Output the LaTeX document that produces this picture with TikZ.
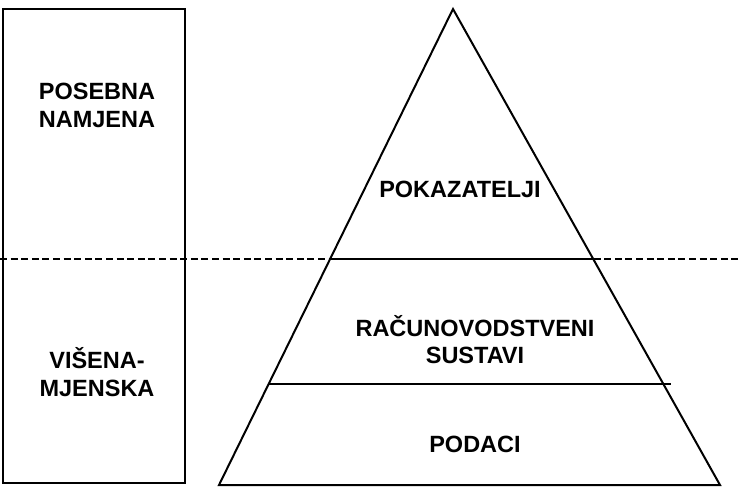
\documentclass[tikz,border=0pt]{standalone}
\usepackage{fontspec}
\setmainfont{Liberation Sans}
\begin{document}
\begin{tikzpicture}[x=1pt,y=-1pt,
  lbl/.style={font=\fontsize{23.5}{28}\selectfont\bfseries, anchor=base, inner sep=0pt},
  edge/.style={line width=2pt},
  sep/.style={line width=2pt, dash pattern=on 7pt off 3.6pt}]
\useasboundingbox (0,0) rectangle (741,488);
% left box
\draw[edge] (3,9) rectangle (185,483);
% triangle
\coordinate (apex) at (453,9);
\coordinate (bl) at (219,485);
\coordinate (br) at (720,485);
\draw[edge, line join=miter] (apex) -- (bl) -- (br) -- cycle;
% dashed separator
\coordinate (dl) at (0,259);
\coordinate (dr) at (741,259);
\draw[sep] (dl) -- (dr);
% levels
\coordinate (l1a) at (331,259);
\coordinate (l1b) at (593,259);
\draw[edge] (l1a) -- (l1b);
\coordinate (l2a) at (268,384);
\coordinate (l2b) at (671,384);
\draw[edge] (l2a) -- (l2b);
% labels
\node[lbl] (pn1) at (97,99) {POSEBNA};
\node[lbl] (pn2) at (97,127) {NAMJENA};
\node[lbl] (vm1) at (97,368) {VIŠENA-};
\node[lbl] (vm2) at (97,396) {MJENSKA};
\node[lbl] (pk) at (460,197) {POKAZATELJI};
\node[lbl] (rs1) at (475,336) {RAČUNOVODSTVENI};
\node[lbl] (rs2) at (475,363) {SUSTAVI};
\node[lbl] (pd) at (475,452) {PODACI};
\end{tikzpicture}
\end{document}
